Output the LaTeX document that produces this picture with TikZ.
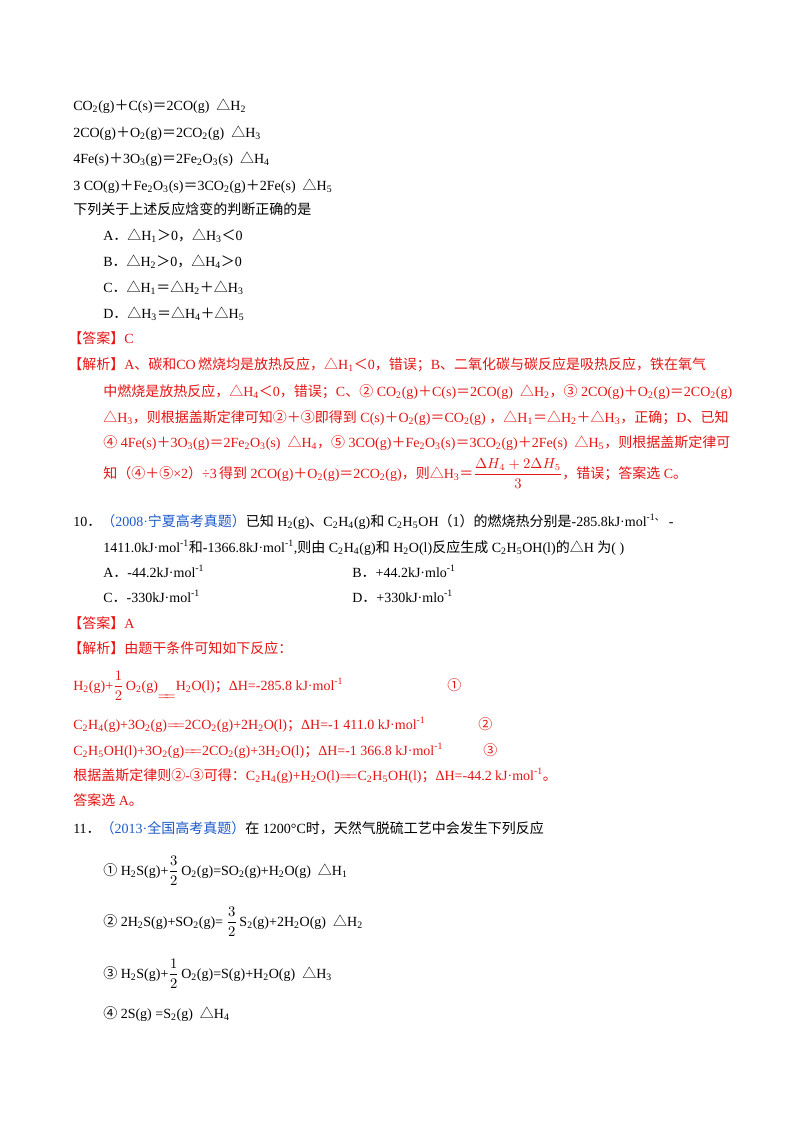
\documentclass[tikz,border=0pt]{standalone}
\usepackage{amsmath}
\usepackage{fontspec}
\setmainfont{Liberation Serif}
\newfontfamily\zhf{Noto Sans CJK SC}
\newcommand\z[1]{{\zhf #1}}
\newcommand\s[1]{\textsubscript{#1}}
\newcommand\p[1]{\textsuperscript{#1}}
\newcommand\dH[1]{\z{△}H\s{#1}}
\newcommand\dbl{$=\!\!=$}
\definecolor{ansred}{RGB}{230,20,20}
\definecolor{srcblue}{RGB}{30,90,200}
\tikzset{ln/.style={anchor=base west,inner sep=0pt,font=\fontsize{10.5}{12}\selectfont},
  red/.style={text=ansred}}
\begin{document}
\begin{tikzpicture}[x=0.75pt,y=-0.75pt]
\useasboundingbox[fill=white] (0,0) rectangle (800,1132);
\node[ln] (l1) at (73,110) {CO\s2(g)\z{＋}C(s)\z{＝}2CO(g) \ \dH2};
\node[ln] (l2) at (73,137) {2CO(g)\z{＋}O\s2(g)\z{＝}2CO\s2(g) \ \dH3};
\node[ln] (l3) at (73,163) {4Fe(s)\z{＋}3O\s3(g)\z{＝}2Fe\s2O\s3(s) \ \dH4};
\node[ln] (l4) at (73,190) {3 CO(g)\z{＋}Fe\s2O\s3(s)\z{＝}3CO\s2(g)\z{＋}2Fe(s) \ \dH5};
\node[ln] (l5) at (73,214) {\z{下列关于上述反应焓变的判断正确的是}};
\node[ln] (oa) at (103,240) {A\z{．}\dH1\z{＞}0\z{，}\dH3\z{＜}0};
\node[ln] (ob) at (103,266) {B\z{．}\dH2\z{＞}0\z{，}\dH4\z{＞}0};
\node[ln] (oc) at (103,292) {C\z{．}\dH1\z{＝}\dH2\z{＋}\dH3};
\node[ln] (od) at (103,318) {D\z{．}\dH3\z{＝}\dH4\z{＋}\dH5};
\node[ln,red] (ans9) at (68,343) {\z{【答案】}C};
\node[ln,red] (j1) at (68,369) {\z{【解析】}A\z{、碳和}CO\,\z{燃烧均是放热反应，}\dH1\z{＜}0\z{，错误；}B\z{、二氧化碳与碳反应是吸热反应，铁在氧气}};
\node[ln,red] (j2) at (103,396) {\z{中燃烧是放热反应，}\dH4\z{＜}0\z{，错误；}C\z{、②} CO\s2(g)\z{＋}C(s)\z{＝}2CO(g) \ \dH2\z{，③} 2CO(g)\z{＋}O\s2(g)\z{＝}2CO\s2(g)};
\node[ln,red] (j3) at (103,422) {\dH3\z{，则根据盖斯定律可知②＋③即得到} C(s)\z{＋}O\s2(g)\z{＝}CO\s2(g) \z{，}\dH1\z{＝}\dH2\z{＋}\dH3\z{，正确；}D\z{、已知}};
\node[ln,red] (j4) at (103,447) {\z{④} 4Fe(s)\z{＋}3O\s3(g)\z{＝}2Fe\s2O\s3(s) \ \dH4\z{，⑤} 3CO(g)\z{＋}Fe\s2O\s3(s)\z{＝}3CO\s2(g)\z{＋}2Fe(s) \ \dH5\z{，则根据盖斯定律可}};
\node[ln,red] (j5) at (103,478) {\z{知（④＋⑤}×2\z{）}÷3\,\z{得到} 2CO(g)\z{＋}O\s2(g)\z{＝}2CO\s2(g)\z{，则}\dH3\z{＝}$\dfrac{\Delta H_4+2\Delta H_5}{3}$\z{，错误；答案选} C\z{。}};
\node[ln] (q10a) at (73,526) {10\z{．}\textcolor{srcblue}{\z{（}2008·\z{宁夏高考真题）}}\z{已知} H\s2(g)\z{、}C\s2H\s4(g)\z{和} C\s2H\s5OH\z{（}1\z{）的燃烧热分别是}-285.8kJ·mol\p{-1\z{、}} -};
\node[ln] (q10b) at (103,552) {1411.0kJ·mol\p{-1}\z{和}-1366.8kJ·mol\p{-1},\z{则由} C\s2H\s4(g)\z{和} H\s2O(l)\z{反应生成} C\s2H\s5OH(l)\z{的}\z{△}H \z{为}( )};
\node[ln] (qa) at (103,577) {A\z{．}-44.2kJ·mol\p{-1}};
\node[ln] (qb) at (352,577) {B\z{．}+44.2kJ·mlo\p{-1}};
\node[ln] (qc) at (103,602) {C\z{．}-330kJ·mol\p{-1}};
\node[ln] (qd) at (352,602) {D\z{．}+330kJ·mlo\p{-1}};
\node[ln,red] (ans10) at (68,628) {\z{【答案】}A};
\node[ln,red] (jx10) at (68,653) {\z{【解析】由题干条件可知如下反应：}};
\node[ln,red] (e1) at (73,690) {H\s2(g)+$\dfrac{1}{2}$\,O\s2(g)\raisebox{-1.6ex}{\dbl}H\s2O(l)\z{；}ΔH=-285.8 kJ·mol\p{-1}};
\node[ln,red] (c1) at (447,690) {\z{①}};
\node[ln,red] (e2) at (73,729) {C\s2H\s4(g)+3O\s2(g)\dbl2CO\s2(g)+2H\s2O(l)\z{；}ΔH=-1 411.0 kJ·mol\p{-1}};
\node[ln,red] (c2) at (478,729) {\z{②}};
\node[ln,red] (e3) at (73,755) {C\s2H\s5OH(l)+3O\s2(g)\dbl2CO\s2(g)+3H\s2O(l)\z{；}ΔH=-1 366.8 kJ·mol\p{-1}};
\node[ln,red] (c3) at (483,755) {\z{③}};
\node[ln,red] (e4) at (73,780) {\z{根据盖斯定律则②}-\z{③可得：}C\s2H\s4(g)+H\s2O(l)\dbl C\s2H\s5OH(l)\z{；}ΔH=-44.2 kJ·mol\p{-1}\z{。}};
\node[ln,red] (e5) at (73,805) {\z{答案选} A\z{。}};
\node[ln] (q11) at (73,833) {11\z{．}\textcolor{srcblue}{\z{（}2013·\z{全国高考真题）}}\z{在} 1200°C\z{时，天然气脱硫工艺中会发生下列反应}};
\node[ln] (r1) at (103,875) {\z{①} H\s2S(g)+$\dfrac{3}{2}$\,O\s2(g)=SO\s2(g)+H\s2O(g) \ \dH1};
\node[ln] (r2) at (103,926) {\z{②} 2H\s2S(g)+SO\s2(g)= $\dfrac{3}{2}$\,S\s2(g)+2H\s2O(g) \ \dH2};
\node[ln] (r3) at (103,978) {\z{③} H\s2S(g)+$\dfrac{1}{2}$\,O\s2(g)=S(g)+H\s2O(g) \ \dH3};
\node[ln] (r4) at (103,1018) {\z{④} 2S(g) =S\s2(g) \ \dH4};
\end{tikzpicture}
\end{document}
